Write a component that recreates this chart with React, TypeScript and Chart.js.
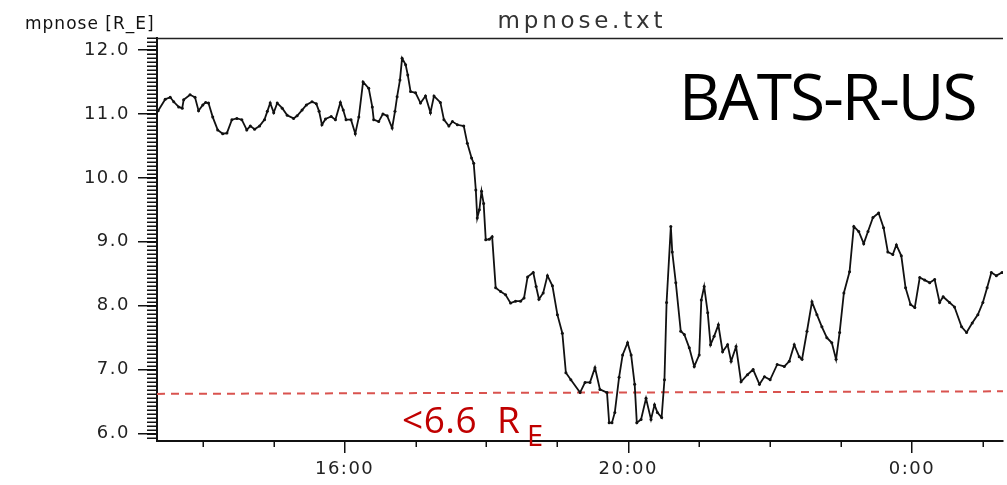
import { useEffect, useRef } from 'react';
import { Chart, registerables } from 'chart.js';

Chart.register(...registerables);

// time in decimal hours (values above 24 belong to the next day)
const times = [
  13.37, 13.47, 13.54, 13.59, 13.66, 13.71, 13.73, 13.82, 13.89, 13.94,
  14.0, 14.04, 14.08, 14.14, 14.21, 14.28, 14.34, 14.41, 14.48, 14.55,
  14.62, 14.67, 14.73, 14.8, 14.87, 14.91, 14.95, 15.0, 15.05, 15.12,
  15.19, 15.28, 15.33, 15.4, 15.46, 15.54, 15.6, 15.64, 15.68, 15.73,
  15.81, 15.87, 15.94, 15.98, 16.02, 16.09, 16.15, 16.2, 16.26, 16.34,
  16.39, 16.41, 16.48, 16.54, 16.6, 16.67, 16.71, 16.74, 16.78, 16.81,
  16.86, 16.89, 16.93, 17.0, 17.07, 17.14, 17.21, 17.26, 17.35, 17.4,
  17.47, 17.52, 17.59, 17.68, 17.73, 17.79, 17.82, 17.85, 17.87, 17.9,
  17.93, 17.96, 17.99, 18.04, 18.08, 18.13, 18.2, 18.27, 18.34, 18.41,
  18.48, 18.53, 18.58, 18.66, 18.7, 18.74, 18.8, 18.86, 18.93, 19.0,
  19.07, 19.12, 19.19, 19.32, 19.39, 19.46, 19.53, 19.6, 19.7, 19.73,
  19.77, 19.81, 19.87, 19.92, 19.99, 20.04, 20.09, 20.12, 20.18, 20.25,
  20.32, 20.37, 20.41, 20.47, 20.51, 20.54, 20.6, 20.62, 20.67, 20.74,
  20.79, 20.86, 20.93, 21.0, 21.03, 21.07, 21.12, 21.16, 21.21, 21.27,
  21.33, 21.4, 21.45, 21.52, 21.59, 21.68, 21.76, 21.85, 21.92, 22.0,
  22.1, 22.2, 22.27, 22.34, 22.41, 22.45, 22.52, 22.59, 22.66, 22.73,
  22.8, 22.87, 22.93, 22.98, 23.04, 23.12, 23.18, 23.25, 23.32, 23.38,
  23.45, 23.53, 23.6, 23.66, 23.73, 23.78, 23.85, 23.91, 23.98, 24.04,
  24.11, 24.18, 24.25, 24.32, 24.39, 24.44, 24.53, 24.6, 24.7, 24.77,
  24.85, 24.93, 25.0, 25.06, 25.12, 25.19, 25.27,
];

// magnetopause nose distance [R_E]
const mpnose = [
  11.05, 11.23, 11.26, 11.19, 11.11, 11.09, 11.22, 11.3, 11.26, 11.05,
  11.14, 11.18, 11.17, 10.95, 10.75, 10.69, 10.7, 10.91, 10.93, 10.91,
  10.75, 10.81, 10.76, 10.81, 10.91, 11.04, 11.17, 11.02, 11.17, 11.09,
  10.98, 10.93, 10.97, 11.06, 11.14, 11.19, 11.16, 11.04, 10.83, 10.92,
  10.96, 10.91, 11.18, 11.06, 10.91, 10.91, 10.69, 10.95, 11.5, 11.4,
  11.11, 10.91, 10.88, 11.0, 10.97, 10.78, 11.04, 11.27, 11.53, 11.87,
  11.77, 11.61, 11.35, 11.33, 11.17, 11.28, 11.02, 11.28, 11.18, 10.91,
  10.81, 10.88, 10.83, 10.81, 10.54, 10.31, 10.23, 9.81, 9.37, 9.5,
  9.79, 9.6, 9.03, 9.04, 9.08, 8.28, 8.22, 8.17, 8.04, 8.07,
  8.07, 8.12, 8.45, 8.52, 8.3, 8.1, 8.2, 8.47, 8.31, 7.86,
  7.57, 6.95, 6.84, 6.64, 6.8, 6.8, 7.03, 6.69, 6.64, 6.17,
  6.17, 6.33, 6.88, 7.23, 7.42, 7.23, 6.77, 6.17, 6.22, 6.55,
  6.22, 6.45, 6.33, 6.25, 6.84, 8.05, 9.24, 8.84, 8.36, 7.6,
  7.55, 7.34, 7.05, 7.23, 8.09, 8.3, 7.89, 7.39, 7.52, 7.7,
  7.28, 7.39, 7.13, 7.36, 6.81, 6.92, 7.0, 6.77, 6.89, 6.84,
  7.08, 7.05, 7.13, 7.39, 7.2, 7.16, 7.6, 8.06, 7.86, 7.67,
  7.5, 7.42, 7.16, 7.58, 8.2, 8.53, 9.24, 9.16, 8.97, 9.16,
  9.38, 9.45, 9.22, 8.84, 8.8, 8.95, 8.78, 8.28, 8.02, 7.97,
  8.44, 8.4, 8.36, 8.41, 8.05, 8.14, 8.05, 7.98, 7.67, 7.58,
  7.73, 7.86, 8.05, 8.28, 8.52, 8.47, 8.52,
];

// geosynchronous-orbit reference line
const thresholdTimes = [13.354, 25.284];
const thresholdValues = [6.62, 6.66];

const xMin = 13.354;
const xMax = 25.284;
const yMin = 5.883;
const yMax = 12.1875;
const xMajorStep = 4;
const yMajorStep = 1;
const yMinorPerMajor = 16;

const titleText = 'mpnose.txt';
const yUnitText = 'mpnose [R_E]';
const modelText = 'BATS-R-US';
const thresholdText = '<6.6';
const thresholdR = 'R';
const thresholdSub = 'E';

const decorPlugin = {
  id: 'decor',
  beforeDraw(chart: any) {
    chart.ctx.letterSpacing = '1.5px';
  },
  afterDraw(chart: any) {
    const { ctx, chartArea: a, scales } = chart;
    const xs = scales.x;
    const ys = scales.y;
    ctx.save();
    ctx.letterSpacing = '0px';
    // top frame line
    ctx.strokeStyle = '#222';
    ctx.lineWidth = 1.5;
    ctx.beginPath();
    ctx.moveTo(a.left, a.top + 0.5);
    ctx.lineTo(a.right, a.top + 0.5);
    ctx.stroke();
    // minor y ticks
    ctx.strokeStyle = '#111';
    ctx.lineWidth = 1.5;
    const step = yMajorStep / yMinorPerMajor;
    for (let v = Math.ceil(yMin / step) * step; v <= yMax; v += step) {
      const py = Math.round(ys.getPixelForValue(v)) + 0.25;
      ctx.beginPath();
      ctx.moveTo(a.left - 10, py);
      ctx.lineTo(a.left, py);
      ctx.stroke();
    }
    // minor x ticks
    for (let h = Math.ceil(xMin); h <= xMax; h++) {
      if (h % xMajorStep === 0) continue;
      const px = Math.round(xs.getPixelForValue(h)) + 0.25;
      ctx.beginPath();
      ctx.moveTo(px, a.bottom);
      ctx.lineTo(px, a.bottom + 6);
      ctx.stroke();
    }
    // title
    ctx.fillStyle = '#333';
    ctx.textBaseline = 'alphabetic';
    ctx.textAlign = 'left';
    ctx.font = '23px "DejaVu Sans"';
    ctx.letterSpacing = '3.8px';
    const tw = ctx.measureText(titleText).width - 3.8;
    ctx.fillText(titleText, (a.left + a.right) / 2 - tw / 2, 28);
    // y unit label
    ctx.fillStyle = '#111';
    ctx.font = '17px "DejaVu Sans"';
    ctx.letterSpacing = '1px';
    ctx.fillText(yUnitText, 25, 29);
    // model label
    ctx.fillStyle = '#000';
    ctx.font = '64px "Open Sans"';
    ctx.letterSpacing = '-2px';
    ctx.fillText(modelText, 679, 120);
    // threshold label
    ctx.fillStyle = '#c00000';
    ctx.font = '37px "Open Sans"';
    ctx.letterSpacing = '0.5px';
    ctx.fillText(thresholdText, 402, 433);
    ctx.fillText(thresholdR, 497, 433);
    ctx.font = '29px "Open Sans"';
    ctx.letterSpacing = '0px';
    ctx.fillText(thresholdSub, 527, 446);
    ctx.restore();
    ctx.letterSpacing = '0px';
  },
};

export default function App() {
  const canvasRef = useRef<HTMLCanvasElement | null>(null);

  useEffect(() => {
    if (!canvasRef.current) return;
    const chart = new Chart(canvasRef.current, {
      type: 'line',
      data: {
        datasets: [
          {
            label: 'mpnose',
            data: times.map((t, i) => ({ x: t, y: mpnose[i] })),
            borderColor: '#111',
            borderWidth: 1.8,
            pointRadius: 1.5,
            pointBackgroundColor: '#111',
            pointBorderWidth: 0,
            tension: 0,
            order: 0,
          },
          {
            label: 'threshold',
            data: thresholdTimes.map((t, i) => ({ x: t, y: thresholdValues[i] })),
            borderColor: '#d9534f',
            borderWidth: 2,
            borderDash: [8, 6],
            pointRadius: 0,
            order: 1,
          },
        ],
      },
      options: {
        animation: false,
        responsive: true,
        maintainAspectRatio: false,
        devicePixelRatio: 1,
        layout: { padding: { top: 38, left: 0, right: 0, bottom: 0 } },
        plugins: {
          legend: { display: false },
          tooltip: { enabled: false },
          title: { display: false },
        },
        scales: {
          x: {
            type: 'linear',
            min: xMin,
            max: xMax,
            afterFit: (s: any) => {
              s.height = 44;
            },
            ticks: {
              stepSize: xMajorStep,
              includeBounds: false,
              autoSkip: false,
              maxRotation: 0,
              callback: (v: any) => `${Number(v) % 24}:00`,
              font: { family: 'DejaVu Sans', size: 18 },
              color: '#222',
              padding: 6,
            },
            grid: {
              drawOnChartArea: false,
              drawTicks: true,
              tickLength: 12,
              color: '#111',
              lineWidth: 1.5,
            },
            border: { display: true, color: '#111', width: 2 },
          },
          y: {
            type: 'linear',
            min: yMin,
            max: yMax,
            afterFit: (s: any) => {
              s.width = 157;
            },
            ticks: {
              stepSize: yMajorStep,
              includeBounds: false,
              callback: (v: any) => Number(v).toFixed(1),
              font: { family: 'DejaVu Sans', size: 18 },
              color: '#222',
              padding: 8,
            },
            grid: {
              drawOnChartArea: false,
              drawTicks: true,
              tickLength: 19,
              color: '#111',
              lineWidth: 1.5,
            },
            border: { display: true, color: '#111', width: 2 },
          },
        },
      },
      plugins: [decorPlugin],
    });
    return () => chart.destroy();
  }, []);

  return (
    <div
      style={{
        position: 'absolute',
        left: 0,
        top: 0,
        width: 1007,
        height: 485,
        background: '#fff',
        overflow: 'hidden',
      }}
    >
      <canvas ref={canvasRef} />
    </div>
  );
}
